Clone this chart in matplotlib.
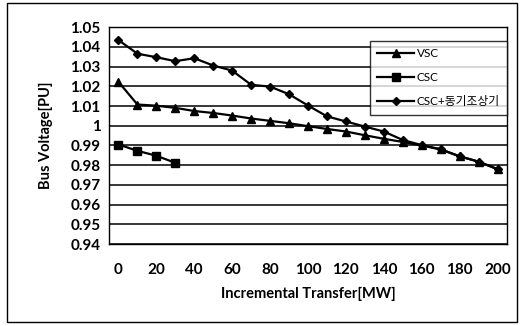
import numpy as np
import matplotlib
matplotlib.use("Agg")
import matplotlib.pyplot as plt
from matplotlib.patches import Rectangle

plt.rcParams['font.family'] = ['Lato', 'Noto Sans CJK KR', 'DejaVu Sans']

transfer = [0, 10, 20, 30, 40, 50, 60, 70, 80, 90, 100,
            110, 120, 130, 140, 150, 160, 170, 180, 190, 200]
vsc = [1.0223, 1.0108, 1.0102, 1.0091, 1.0075, 1.0065, 1.0052, 1.0037, 1.0025, 1.0013, 0.9998,
       0.9984, 0.9971, 0.9952, 0.9934, 0.9918, 0.9900, 0.9880, 0.9845, 0.9818, 0.9780]
csc = [0.9905, 0.9873, 0.9848, 0.9812]
csc_sc = [1.0435, 1.0366, 1.0348, 1.0328, 1.0343, 1.0306, 1.0280, 1.0208, 1.0199, 1.0160, 1.0103,
          1.0048, 1.0022, 0.9996, 0.9971, 0.9928, 0.9902, 0.9881, 0.9845, 0.9818, 0.9780]
labels = ["VSC", "CSC", "CSC+동기조상기"]

fig = plt.figure(figsize=(5.25, 3.26), dpi=100)
fig.patches.append(Rectangle((0.013, 0.012), 0.972, 0.978, transform=fig.transFigure,
                             fill=False, edgecolor="black", linewidth=1.0))
ax = fig.add_axes([0.2076, 0.2515, 0.7581, 0.6648])

idx = np.arange(len(transfer))
ax.plot(idx, vsc, color="black", lw=1.6, marker="^", ms=6, label=labels[0])
ax.plot(idx[:len(csc)], csc, color="black", lw=1.6, marker="s", ms=6, label=labels[1])
ax.plot(idx, csc_sc, color="black", lw=1.6, marker="D", ms=4.5, label=labels[2])

ax.set_xlim(-0.5, len(transfer) - 0.5)
ax.set_ylim(0.94, 1.05)
ax.set_yticks(np.arange(0.94, 1.0501, 0.01))
ax.set_yticklabels(["0.94", "0.95", "0.96", "0.97", "0.98", "0.99", "1",
                    "1.01", "1.02", "1.03", "1.04", "1.05"])
ax.set_xticks(idx[::2])
ax.set_xticklabels([str(t) for t in transfer[::2]])
ax.tick_params(length=0, labelsize=11, pad=6)
ax.tick_params(axis="x", pad=14)
for t in ax.get_xticklabels() + ax.get_yticklabels():
    t.set_fontweight("bold")
ax.grid(axis="y", color="black", lw=1.1)
ax.set_axisbelow(True)
for s in ax.spines.values():
    s.set_color("black")
    s.set_linewidth(1.0)

ax.set_ylabel("Bus Voltage[PU]", fontsize=10.5, fontweight="bold")
ax.yaxis.set_label_coords(-0.141, 0.5)
ax.set_xlabel("Incremental Transfer[MW]", fontsize=10.5, fontweight="bold", labelpad=7)

leg = ax.legend(loc="upper right", bbox_to_anchor=(1.0, 0.935), fontsize=8.5,
                frameon=True, fancybox=False, edgecolor="black", handlelength=3.2,
                labelspacing=1.1, borderpad=0.6, handletextpad=0.2, borderaxespad=0)
leg.get_frame().set_linewidth(1.0)

fig.savefig("out.png", dpi=100)
